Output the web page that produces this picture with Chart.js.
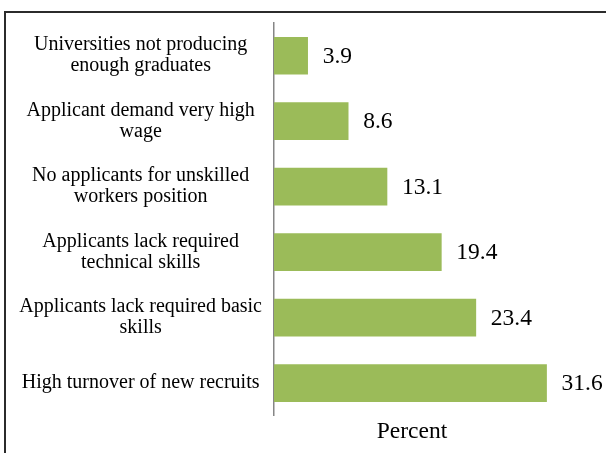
<!DOCTYPE html>
<html>
<head>
<meta charset="utf-8">
<script src="https://cdn.jsdelivr.net/npm/chart.js@4/dist/chart.umd.min.js"></script>
<style>
  html, body { margin: 0; padding: 0; background: #fff; overflow: hidden; }
  #wrap { position: relative; width: 606px; height: 453px; overflow: hidden; }
  #frame { position: absolute; left: 4px; top: 11px; width: 700px; height: 600px; border: 2px solid #2b2b2b; }
  canvas { position: absolute; left: 0; top: 0; }
</style>
</head>
<body>
<div id="wrap">
  <div id="frame"></div>
  <canvas id="myChart" width="606" height="453"></canvas>
</div>
<script>
// Reasons for difficulty in filling vacancies (percent of firms)
const reasons = [
  ['Universities not producing', 'enough graduates'],
  ['Applicant demand very high', 'wage'],
  ['No applicants for unskilled', 'workers position'],
  ['Applicants lack required', 'technical skills'],
  ['Applicants lack required basic', 'skills'],
  'High turnover of new recruits'
];
const percents = [3.9, 8.6, 13.1, 19.4, 23.4, 31.6];

const serif = '"Liberation Serif", "Times New Roman", serif';

// writes the value just right of each bar
const valueLabels = {
  id: 'valueLabels',
  afterDatasetsDraw(chart) {
    const ctx = chart.ctx;
    const meta = chart.getDatasetMeta(0);
    ctx.save();
    ctx.font = '23.5px ' + serif;
    ctx.fillStyle = '#000';
    ctx.textAlign = 'left';
    ctx.textBaseline = 'middle';
    meta.data.forEach((bar, i) => {
      ctx.fillText(percents[i].toFixed(1), bar.x + 15, bar.y + 1);
    });
    ctx.restore();
  }
};

new Chart(document.getElementById('myChart').getContext('2d'), {
  type: 'bar',
  data: {
    labels: reasons,
    datasets: [{
      data: percents,
      backgroundColor: '#9bbb59',
      borderWidth: 0,
      barThickness: 37
    }]
  },
  options: {
    indexAxis: 'y',
    responsive: false,
    animation: false,
    layout: { padding: { top: 23, left: 0, right: 56, bottom: 0 } },
    plugins: {
      legend: { display: false },
      tooltip: { enabled: false }
    },
    scales: {
      x: {
        min: 0,
        max: 32,
        grid: { display: false, drawTicks: false },
        border: { display: false },
        ticks: { display: false },
        title: {
          display: true,
          text: 'Percent',
          color: '#000',
          font: { family: serif, size: 23.5, lineHeight: 1.2 },
          padding: { top: 2, bottom: 7 }
        }
      },
      y: {
        grid: { display: false, drawTicks: false },
        border: { display: true, color: '#868686', width: 1.5 },
        ticks: {
          color: '#000',
          crossAlign: 'center',
          padding: 12,
          font: { family: serif, size: 20, lineHeight: 1.05 }
        },
        afterFit(scale) { scale.width = 274; }
      }
    }
  },
  plugins: [valueLabels]
});
</script>
</body>
</html>
